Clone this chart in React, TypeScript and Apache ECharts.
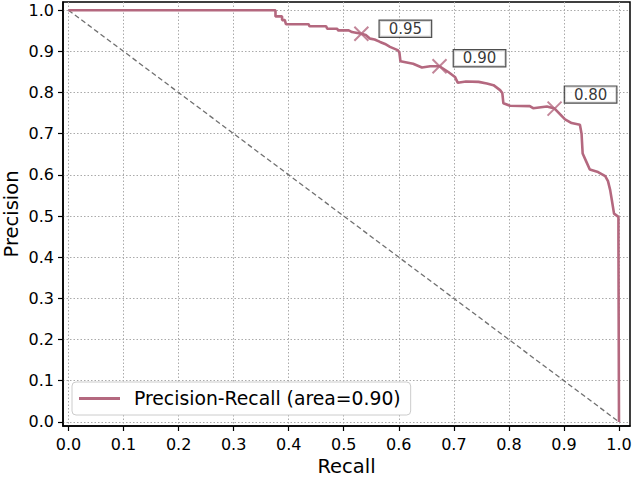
import React, { useEffect, useRef } from "react";
import * as echarts from "echarts";

const recall = [
  0.0, 0.376, 0.376, 0.388, 0.388, 0.393, 0.395, 0.436, 0.438, 0.468, 0.47, 0.488, 0.49, 0.509, 0.515,
  0.532, 0.54, 0.548, 0.556, 0.566, 0.575, 0.584, 0.598, 0.601, 0.603, 0.626, 0.642, 0.657, 0.674,
  0.69, 0.702, 0.707, 0.722, 0.745, 0.76, 0.772, 0.784, 0.788, 0.79, 0.802, 0.838, 0.844, 0.869,
  0.883, 0.902, 0.914, 0.929, 0.932, 0.934, 0.941, 0.947, 0.962, 0.975, 0.98, 0.984, 0.987, 0.991,
  0.999, 0.999, 1.0,
];
const precision = [
  1.0, 1.0, 0.985, 0.985, 0.976, 0.976, 0.966, 0.966, 0.961, 0.961, 0.955, 0.955, 0.951, 0.951, 0.947,
  0.943, 0.94, 0.931, 0.929, 0.923, 0.918, 0.911, 0.903, 0.898, 0.876, 0.87, 0.861, 0.864, 0.864,
  0.85, 0.838, 0.824, 0.827, 0.826, 0.822, 0.818, 0.806, 0.799, 0.774, 0.768, 0.767, 0.762, 0.766,
  0.761, 0.735, 0.726, 0.722, 0.7, 0.652, 0.631, 0.613, 0.607, 0.597, 0.585, 0.563, 0.539, 0.506,
  0.498, 0.44, 0.0,
];
const thresholdRecall = [0.532, 0.674, 0.883];
const thresholdPrecision = [0.943, 0.864, 0.761];
const thresholdLabels = ["0.95", "0.90", "0.80"];
const chanceRecall = [0, 1];
const chancePrecision = [1, 0];
const tickValues = [0, 0.1, 0.2, 0.3, 0.4, 0.5, 0.6, 0.7, 0.8, 0.9, 1.0];
const seriesName = "Precision-Recall (area=0.90)";

const labelOffsets = [
  [44, -5],
  [40, -8],
  [36, -14],
];

const LINE_COLOR = "#b4687f";
const FONT = "DejaVu Sans";

function fmt(v: number) {
  const r = Math.round(v * 10);
  return Math.abs(v * 10 - r) < 1e-6 ? (r / 10).toFixed(1) : "";
}

function axisBase(name: string, isX: boolean) {
  const axis: any = {
    type: "value",
    min: -0.01,
    max: 1.02,
    splitNumber: 10,
    name,
    nameLocation: "middle",
    nameGap: isX ? 29 : 42,
    nameTextStyle: { fontSize: 19.5, lineHeight: 19, color: "#000", fontFamily: FONT },
    axisLine: { show: true, onZero: false, lineStyle: { color: "#000", width: 1.5 } },
    axisTick: {
      show: true,
      customValues: tickValues,
      length: 5,
      lineStyle: { color: "#000", width: 1.2 },
    },
    axisLabel: {
      customValues: tickValues,
      formatter: (v: number) => fmt(v),
      fontSize: 16,
      color: "#000",
      fontFamily: FONT,
      margin: isX ? 10 : 9,
    },
    splitLine: {
      show: true,
      lineStyle: { color: "#aaaaaa", type: [1.5, 2], width: 1 },
    },
  };
  if (!isX) axis.nameMoveOverlap = false;
  return axis;
}

export default function App() {
  const ref = useRef<HTMLDivElement>(null);
  useEffect(() => {
    if (!ref.current) return;
    const chart = echarts.init(ref.current, null, { renderer: "svg" });
    const curve = recall.map((r, i) => [r, precision[i]]);
    const chance = chanceRecall.map((r, i) => [r, chancePrecision[i]]);
    const markers = thresholdRecall.map((r, i) => ({
      value: [r, thresholdPrecision[i]],
      label: {
        show: true,
        formatter: thresholdLabels[i],
        position: "inside",
        offset: labelOffsets[i],
        align: "center",
        verticalAlign: "middle",
        fontSize: 15,
        fontFamily: FONT,
        color: "#000",
        backgroundColor: "#fff",
        borderColor: "#222",
        borderWidth: 1.2,
        padding: [1, 9, 0, 9],
        lineHeight: 15,
      },
    }));
    chart.setOption({
      animation: false,
      backgroundColor: "#fff",
      grid: {
        left: 63,
        right: 3,
        top: 2,
        bottom: 51,
        show: true,
        containLabel: false,
        outerBoundsMode: "none",
        borderColor: "#000",
        borderWidth: 1.5,
        backgroundColor: "transparent",
      },
      legend: {
        data: [{ name: seriesName, icon: "rect" }],
        left: 72,
        top: 382,
        orient: "vertical",
        itemWidth: 41,
        itemHeight: 3,
        padding: [7, 10, 7, 7],
        backgroundColor: "#fff",
        borderColor: "#cccccc",
        borderWidth: 1,
        borderRadius: 4,
        textStyle: { fontSize: 18.8, color: "#000", fontFamily: FONT, padding: [0, 0, 0, 9] },
      },
      xAxis: axisBase("Recall", true),
      yAxis: axisBase("Precision", false),
      series: [
        {
          type: "line",
          name: "chance",
          data: chance,
          symbol: "none",
          silent: true,
          lineStyle: { color: "#707070", width: 1.3, type: [5, 3] },
          z: 2,
        },
        {
          type: "line",
          name: seriesName,
          data: curve,
          symbol: "none",
          color: LINE_COLOR,
          lineStyle: { color: LINE_COLOR, width: 2.6 },
          z: 3,
        },
        {
          type: "scatter",
          name: "thresholds",
          data: markers,
          symbol: "path://M0,0L10,10M10,0L0,10",
          symbolSize: 14,
          itemStyle: { color: "transparent", borderColor: LINE_COLOR, borderWidth: 2 },
          z: 4,
        },
      ],
    });
    return () => chart.dispose();
  }, []);
  return (
    <div
      ref={ref}
      style={{ position: "fixed", left: 0, top: 0, width: 633, height: 477 }}
    />
  );
}
